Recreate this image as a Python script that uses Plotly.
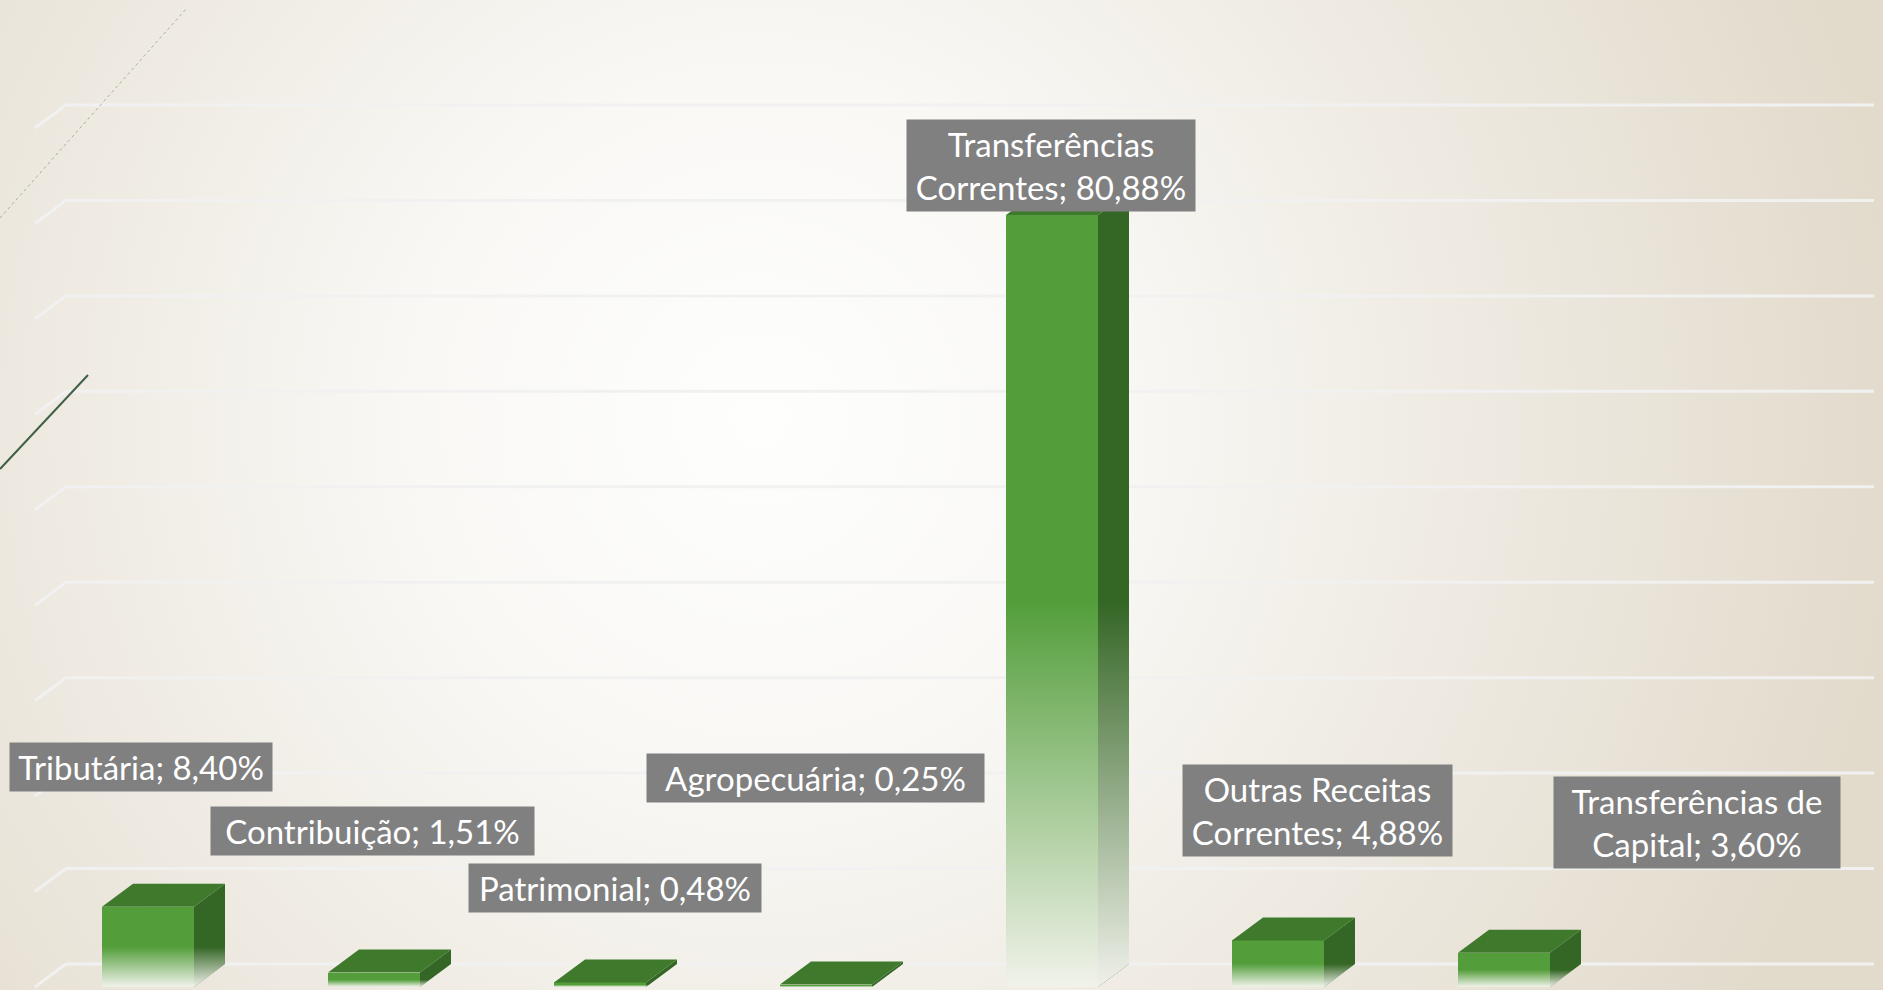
import base64
import plotly.graph_objects as go

# ---------------- data ----------------
CATEGORIES = ["Tributária", "Contribuição", "Patrimonial", "Agropecuária",
              "Transferências Correntes", "Outras Receitas Correntes",
              "Transferências de Capital"]
VALUES = [8.40, 1.51, 0.48, 0.25, 80.88, 4.88, 3.60]
LABEL_NAMES = ["Tributária", "Contribuição", "Patrimonial", "Agropecuária",
               "Transferências<br>Correntes", "Outras Receitas<br>Correntes",
               "Transferências de<br>Capital"]
Y_TICKS = [0, 10, 20, 30, 40, 50, 60, 70, 80, 90]
N_SLOTS = 8

# ---------------- geometry / style ----------------
W, H = 1883, 990
SLOT_PX = 226.0
WALL_LEFT_PX = 66.0
PX_PER_PCT = 9.544
ZERO_PX = 964.0
X_RANGE = [-WALL_LEFT_PX / SLOT_PX, (W - WALL_LEFT_PX) / SLOT_PX]
Y_RANGE = [-(H - ZERO_PX) / PX_PER_PCT, ZERO_PX / PX_PER_PCT]
DX = 31.0 / SLOT_PX
DY = 23.0 / PX_PER_PCT
BAR_W = 92.0 / SLOT_PX
FADE_FRAC = 0.5

FRONT = "rgb(83,158,59)"
SIDE = "rgb(52,102,37)"
TOP = "rgb(62,121,44)"
FADE_RGB = "246,245,240"
GRID = "rgb(241,241,241)"

# label offsets from the top of each bar, in pixels (x right, y up), and label box widths
LABEL_SHIFT = [(-7, 140), (-2, 142), (15, 94), (-11, 207), (-1, 50), (39, 130), (193, 130)]
LABEL_BOX_W = [262, 323, 292, 337, 288, 269, 286]
LABEL_PAD = 4

svg = (
    '<svg xmlns="http://www.w3.org/2000/svg" width="1883" height="990" '
    'viewBox="0 0 1883 990" preserveAspectRatio="none"><defs>'
    '<radialGradient id="g" gradientUnits="userSpaceOnUse" cx="760" cy="420" r="1150">'
    '<stop offset="0" stop-color="#fefefd"/><stop offset="0.3" stop-color="#f9f8f5"/>'
    '<stop offset="0.6" stop-color="#efebe3"/><stop offset="1" stop-color="#e2dacb"/>'
    '</radialGradient></defs><rect width="1883" height="990" fill="url(#g)"/></svg>'
)
bg_uri = "data:image/svg+xml;base64," + base64.b64encode(svg.encode()).decode()

fig = go.Figure()

xc_list = [i + 0.5 - DX for i in range(len(VALUES))]

# front faces
fig.add_trace(go.Bar(
    x=xc_list, y=VALUES, base=[-DY] * len(VALUES), width=[BAR_W] * len(VALUES),
    marker=dict(color=FRONT, line=dict(width=0)),
    hovertext=CATEGORIES, hoverinfo="text+y", showlegend=False,
))

for i, v in enumerate(VALUES):
    xc = xc_list[i]
    xl, xr = xc - BAR_W / 2, xc + BAR_W / 2
    # side face
    fig.add_trace(go.Scatter(
        x=[xr, xr + DX, xr + DX, xr, xr], y=[-DY, 0, v, v - DY, -DY],
        fill="toself", fillcolor=SIDE, mode="lines", line=dict(width=0, color=SIDE),
        hoverinfo="skip", showlegend=False))
    # top face
    fig.add_trace(go.Scatter(
        x=[xl, xr, xr + DX, xl + DX, xl], y=[v - DY, v - DY, v, v, v - DY],
        fill="toself", fillcolor=TOP, mode="lines", line=dict(width=0, color=TOP),
        hoverinfo="skip", showlegend=False))
    # fade toward the floor
    t = -DY + FADE_FRAC * v
    fig.add_trace(go.Scatter(
        x=[xl, xr, xr + DX, xr + DX, xr, xl, xl],
        y=[-DY, -DY, 0, t + DY, t, t, -DY],
        fill="toself", mode="lines", line=dict(width=0, color="rgba(0,0,0,0)"),
        fillgradient=dict(type="vertical", start=-DY, stop=t,
                          colorscale=[[0, f"rgba({FADE_RGB},0.97)"], [1, f"rgba({FADE_RGB},0)"]]),
        hoverinfo="skip", showlegend=False))

# gridlines on back and left walls
shapes = []
for tv in Y_TICKS:
    shapes.append(dict(
        type="path", xref="x", yref="y", layer="below",
        path=f"M {-DX},{tv - DY} L 0,{tv} L {N_SLOTS},{tv}",
        line=dict(color=GRID, width=3)))

# decorative slide lines
shapes.append(dict(type="line", xref="paper", yref="paper",
                   x0=0, y0=1 - 218 / H, x1=186 / W, y1=1 - 9 / H,
                   line=dict(color="rgba(110,130,110,0.55)", width=1, dash="dot")))
shapes.append(dict(type="line", xref="paper", yref="paper",
                   x0=0, y0=1 - 469 / H, x1=88 / W, y1=1 - 375 / H,
                   line=dict(color="rgb(62,95,72)", width=2)))

annotations = []
for i, v in enumerate(VALUES):
    txt = f"{LABEL_NAMES[i]}; {v:.2f}%".replace(".", ",")
    sx, sy = LABEL_SHIFT[i]
    annotations.append(dict(
        x=xc_list[i], y=v - DY, xref="x", yref="y", text=txt, showarrow=False,
        xshift=sx, yshift=sy, xanchor="center", yanchor="middle", align="center",
        width=LABEL_BOX_W[i] - 2 * LABEL_PAD,
        bgcolor="rgb(128,128,128)", borderpad=LABEL_PAD,
        font=dict(family="Lato", size=33, color="white")))

fig.update_layout(
    width=W, height=H, margin=dict(l=0, r=0, t=0, b=0),
    paper_bgcolor="#f3f0ea", plot_bgcolor="rgba(0,0,0,0)",
    xaxis=dict(range=X_RANGE, visible=False, fixedrange=True),
    yaxis=dict(range=Y_RANGE, visible=False, fixedrange=True),
    shapes=shapes, annotations=annotations, bargap=0,
    images=[dict(source=bg_uri, xref="paper", yref="paper", x=0, y=1,
                 sizex=1, sizey=1, sizing="stretch", xanchor="left", yanchor="top",
                 layer="below")],
    showlegend=False,
)

fig.write_html("out.html", config={"displayModeBar": False},
               post_script="document.body.style.margin='0';document.body.style.overflow='hidden';")
